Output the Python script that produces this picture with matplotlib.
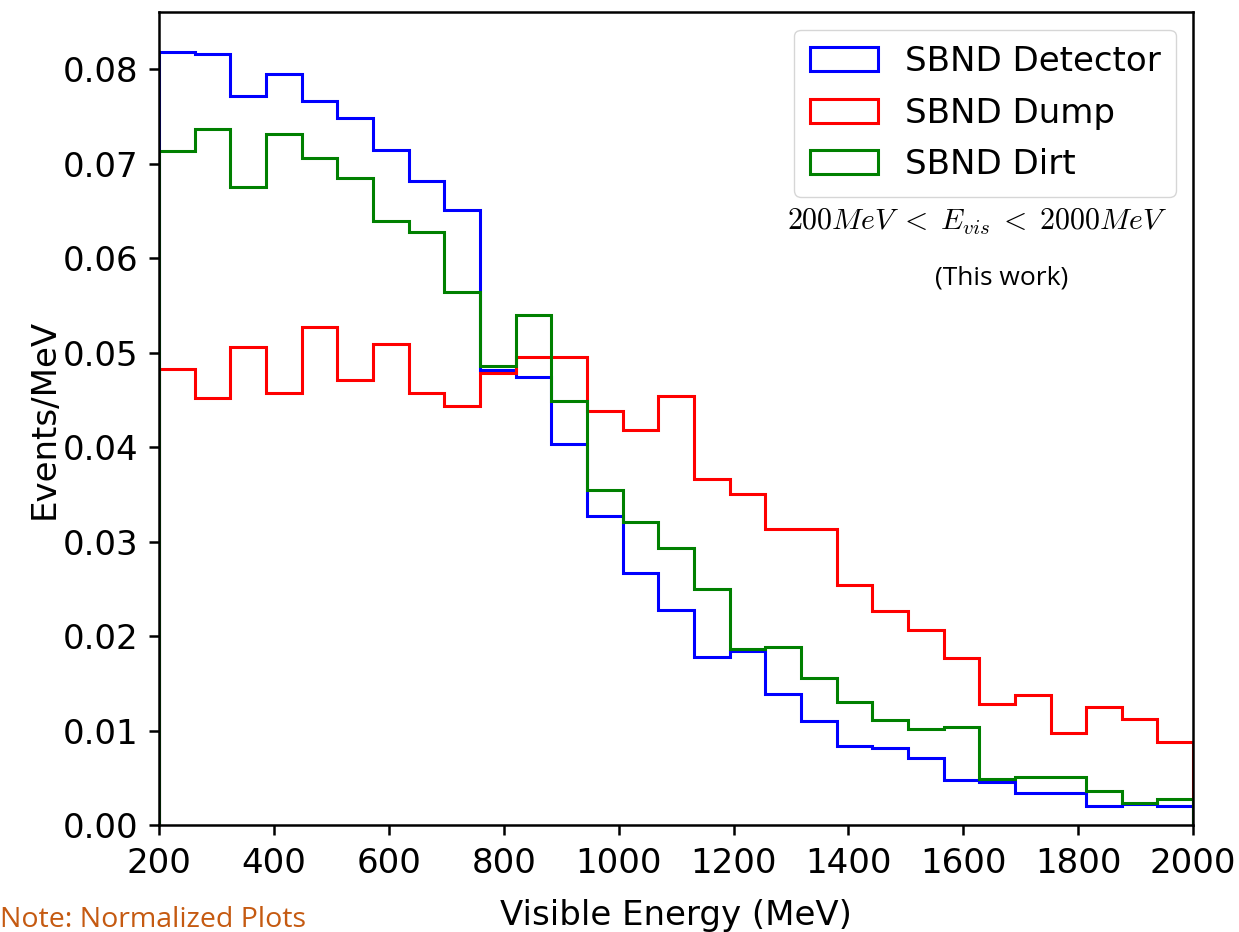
import matplotlib
matplotlib.use('Agg')
import matplotlib.pyplot as plt
import numpy as np

# bin edges: 29 bins between 200 and 2000 MeV
e_min, e_max, n_bins = 200, 2000, 29

# normalized events/MeV per bin
detector = [0.0818, 0.0816, 0.0772, 0.0795, 0.0766, 0.0748, 0.0714, 0.0682, 0.0651, 0.0482,
            0.0474, 0.0403, 0.0327, 0.0267, 0.0228, 0.0178, 0.0184, 0.0139, 0.0110, 0.0084,
            0.0081, 0.0071, 0.0048, 0.0045, 0.0034, 0.0034, 0.0020, 0.0022, 0.0020]
dump = [0.0483, 0.0452, 0.0506, 0.0457, 0.0527, 0.0471, 0.0509, 0.0457, 0.0444, 0.0478,
        0.0495, 0.0495, 0.0438, 0.0418, 0.0454, 0.0366, 0.0350, 0.0313, 0.0313, 0.0254,
        0.0227, 0.0206, 0.0177, 0.0128, 0.0138, 0.0097, 0.0125, 0.0112, 0.0088]
dirt = [0.0713, 0.0737, 0.0675, 0.0731, 0.0706, 0.0685, 0.0639, 0.0628, 0.0564, 0.0486,
        0.0540, 0.0449, 0.0355, 0.0321, 0.0293, 0.0250, 0.0186, 0.0188, 0.0156, 0.0130,
        0.0111, 0.0102, 0.0104, 0.0049, 0.0051, 0.0051, 0.0036, 0.0023, 0.0028]
labels = ['SBND Detector', 'SBND Dump', 'SBND Dirt']
colors = ['blue', 'red', 'green']

plt.rcParams.update({
    'font.size': 24.5,
    'axes.linewidth': 1.8,
    'xtick.major.size': 7.5, 'ytick.major.size': 7.5,
    'xtick.major.width': 1.8, 'ytick.major.width': 1.8,
    'xtick.major.pad': 8, 'ytick.major.pad': 7,
    'mathtext.fontset': 'cm',
})

edges = np.linspace(e_min, e_max, n_bins + 1)
centers = 0.5 * (edges[:-1] + edges[1:])

fig = plt.figure(figsize=(12.39, 9.32), dpi=100)
ax = fig.add_axes([0.1283, 0.1148, 0.8347, 0.8718])

for vals, lab, col in zip([detector, dump, dirt], labels, colors):
    ax.hist(centers, bins=edges, weights=vals, histtype='step', color=col, lw=2.2, label=lab)

ax.set_xlim(200, 2000)
ax.set_ylim(0, 0.086)
ax.set_xticks(np.arange(200, 2001, 200))
ax.set_yticks(np.arange(0, 0.081, 0.01))
ax.set_xlabel('Visible Energy (MeV)', labelpad=14)
ax.set_ylabel('Events/MeV', labelpad=2)

ax.legend(loc='upper right', handlelength=2.0, handleheight=0.7, borderpad=0.45,
          labelspacing=0.55, handletextpad=0.8)

ax.text(0.791, 0.742, r'$200MeV\;<\;E_{vis}\;<\;2000MeV$', transform=ax.transAxes,
        ha='center', va='center', fontsize=21.5)
ax.text(0.815, 0.673, '(This work)', transform=ax.transAxes,
        ha='center', va='center', fontsize=19, family='Open Sans')

fig.text(0.0, -0.002, 'Note: Normalized Plots', color='#C55A11', fontsize=20.5,
         family='Open Sans', ha='left', va='bottom')

fig.savefig('out.png', dpi=100)
